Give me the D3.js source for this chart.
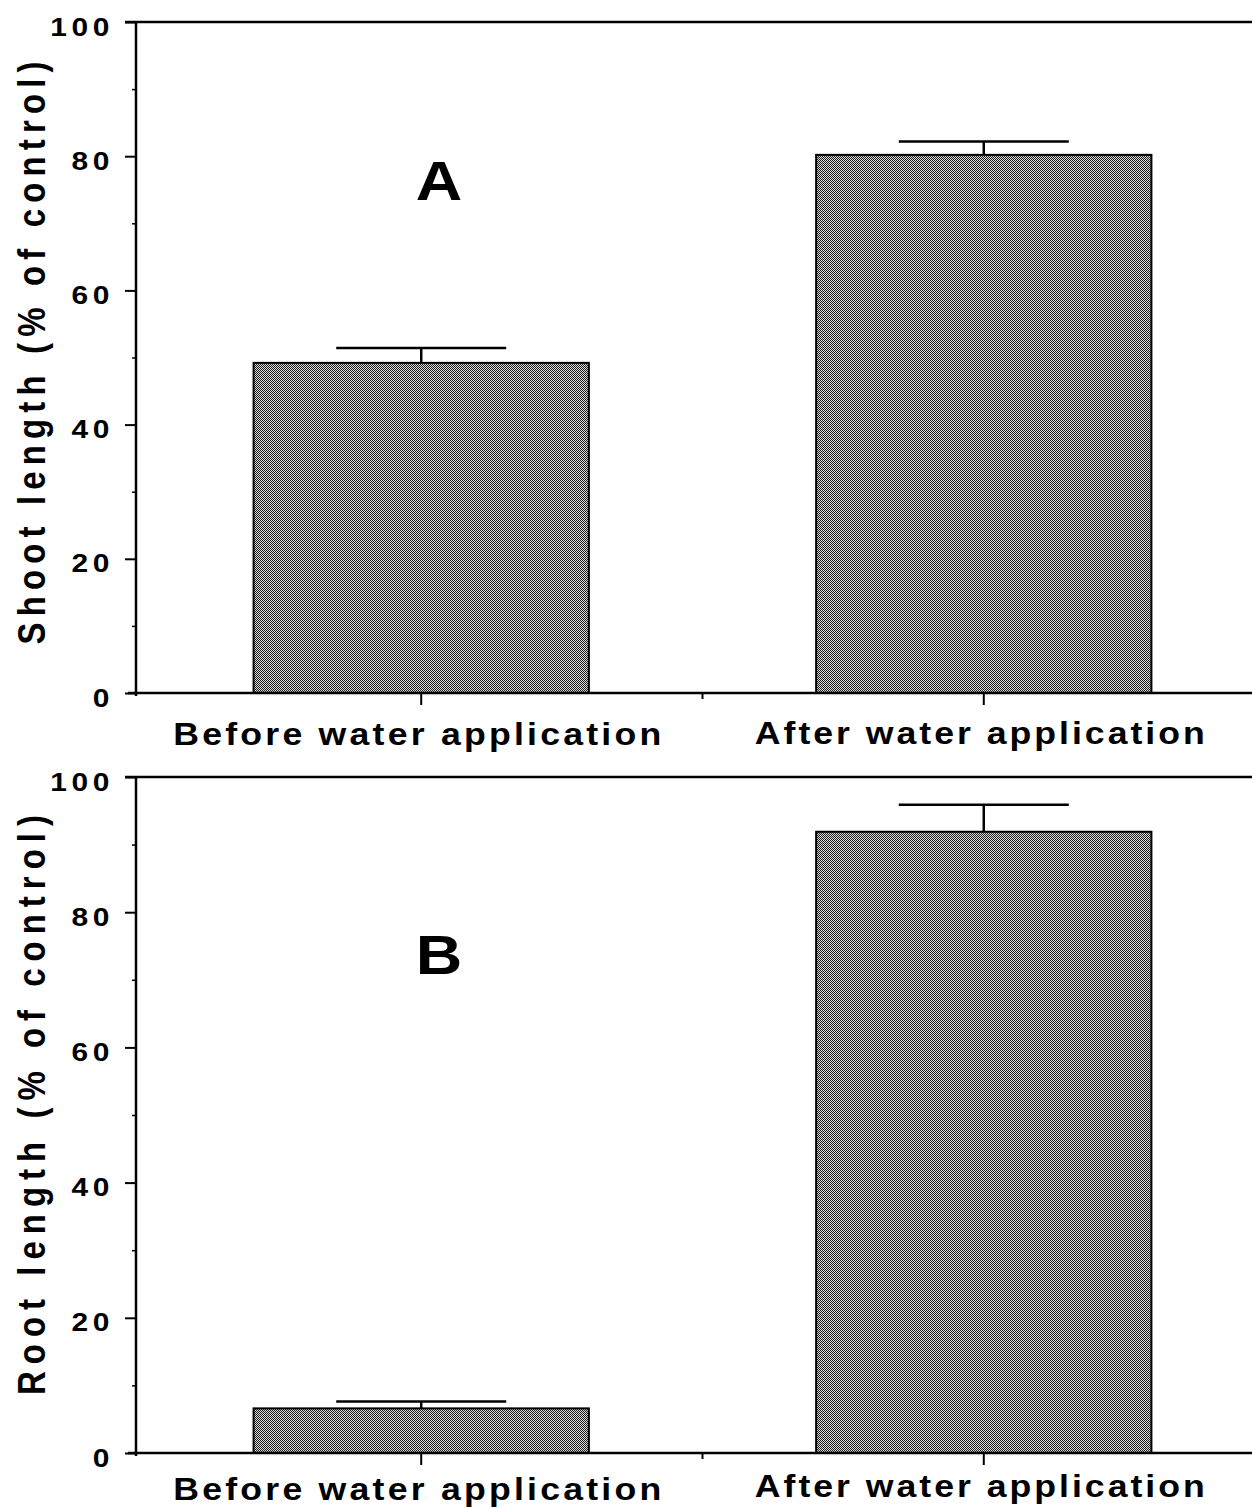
<!DOCTYPE html>
<html>
<head>
<meta charset="utf-8">
<script src="https://cdn.jsdelivr.net/npm/d3@7"></script>
<style>
  html, body { margin: 0; padding: 0; background: #fff; }
  svg { display: block; }
  text { font-family: "Liberation Sans", Arial, Helvetica, sans-serif; font-weight: bold; fill: #000; }
</style>
</head>
<body>
<svg id="chart" width="1252" height="1508"></svg>
<script>
// Growth after drought stress, expressed as percent of the well-watered control
const categories = ["Before water application", "After water application"];
const shootMean = [49.2, 80.2];
const shootErr  = [2.2, 2.0];
const rootMean  = [6.6, 91.9];
const rootErr   = [1.0, 4.0];
const yTicks    = [0, 20, 40, 60, 80, 100];
const yMinor    = [10, 30, 50, 70, 90];

const W = 1252, H = 1508;
const SX = 1.15;            // slightly widened lettering
const svg = d3.select("#chart");

// checker-dithered grey used for bar fills
const defs = svg.append("defs");
const pat = defs.append("pattern").attr("id", "dither")
  .attr("width", 2).attr("height", 2).attr("patternUnits", "userSpaceOnUse");
pat.append("rect").attr("width", 2).attr("height", 2).attr("fill", "#dcdcdc");
pat.append("rect").attr("x", 0).attr("y", 0).attr("width", 1).attr("height", 1).attr("fill", "#1c1c1c");
pat.append("rect").attr("x", 1).attr("y", 1).attr("width", 1).attr("height", 1).attr("fill", "#1c1c1c");

const x = d3.scaleBand().domain(categories)
  .range([136, 1269]).paddingInner(0.404).paddingOuter(0.209);

// widened text with a fixed overall length
function wideText(parent, tx, ty, str, size, length, anchor) {
  const g = parent.append("g").attr("transform", `translate(${tx},${ty}) scale(${SX},1)`);
  g.append("text").attr("text-anchor", anchor || "middle")
    .attr("font-size", size)
    .attr("textLength", length / SX).attr("lengthAdjust", "spacing")
    .text(str);
  return g;
}

const panels = [
  { top: 22,  bottom: 693,  means: shootMean, errs: shootErr, tag: "A", tagY: 200,
    title: "Shoot length (% of control)", titleY: 353, labelY: [745, 744] },
  { top: 777, bottom: 1453, means: rootMean,  errs: rootErr,  tag: "B", tagY: 974,
    title: "Root length (% of control)", titleY: 1105, labelY: [1500, 1497] }
];

panels.forEach(p => {
  const g = svg.append("g");
  const y = d3.scaleLinear().domain([0, 100]).range([p.bottom, p.top]);

  // bars
  g.selectAll("rect.bar").data(categories).join("rect")
    .attr("class", "bar")
    .attr("x", d => x(d))
    .attr("width", x.bandwidth())
    .attr("y", (d, i) => y(p.means[i]))
    .attr("height", (d, i) => y(0) - y(p.means[i]))
    .attr("fill", "url(#dither)")
    .attr("stroke", "#000").attr("stroke-width", 2);

  // error bars (upper only)
  const capHalf = 85;
  categories.forEach((c, i) => {
    const cx = x(c) + x.bandwidth() / 2;
    g.append("line")
      .attr("x1", cx).attr("x2", cx)
      .attr("y1", y(p.means[i])).attr("y2", y(p.means[i] + p.errs[i]))
      .attr("stroke", "#000").attr("stroke-width", 2.5);
    g.append("line")
      .attr("x1", cx - capHalf).attr("x2", cx + capHalf)
      .attr("y1", y(p.means[i] + p.errs[i])).attr("y2", y(p.means[i] + p.errs[i]))
      .attr("stroke", "#000").attr("stroke-width", 2.5);
  });

  // top frame line and x baseline
  g.append("line").attr("x1", 125).attr("x2", W).attr("y1", y(100)).attr("y2", y(100))
    .attr("stroke", "#000").attr("stroke-width", 2.5);
  g.append("line").attr("x1", 128).attr("x2", W).attr("y1", y(0)).attr("y2", y(0))
    .attr("stroke", "#000").attr("stroke-width", 2.5);

  // y axis: major ticks with labels
  const yAxis = g.append("g").attr("transform", "translate(136,0)")
    .call(d3.axisLeft(y).tickValues(yTicks).tickSize(11).tickPadding(14).tickFormat(d3.format("d")));
  yAxis.select(".domain").remove();
  yAxis.attr("font-size", null).attr("font-family", null);
  yAxis.selectAll(".tick line").attr("stroke", "#000").attr("stroke-width", 2);
  yAxis.selectAll(".tick text")
    .style("font-size", "26px")
    .attr("letter-spacing", 4).attr("dy", "0.5em")
    .attr("x", -22 / SX)
    .attr("transform", `scale(${SX},1)`);
  // minor ticks
  const yAxisMinor = g.append("g").attr("transform", "translate(136,0)")
    .call(d3.axisLeft(y).tickValues(yMinor).tickSize(4).tickFormat(""));
  yAxisMinor.select(".domain").remove();
  yAxisMinor.selectAll(".tick line").attr("stroke", "#000").attr("stroke-width", 1.5);
  // y axis line
  g.append("line").attr("x1", 136).attr("x2", 136).attr("y1", y(100)).attr("y2", y(0) + 3)
    .attr("stroke", "#000").attr("stroke-width", 2.5);

  // x axis ticks at the categories
  const xAxis = g.append("g").attr("transform", `translate(0,${y(0)})`)
    .call(d3.axisBottom(x).tickSize(12).tickFormat(""));
  xAxis.select(".domain").remove();
  xAxis.selectAll(".tick line").attr("stroke", "#000").attr("stroke-width", 2);
  // small divider tick between the two groups
  const midX = (x(categories[0]) + x.bandwidth() + x(categories[1])) / 2;
  g.append("line").attr("x1", midX).attr("x2", midX).attr("y1", y(0)).attr("y2", y(0) + 6)
    .attr("stroke", "#000").attr("stroke-width", 2);

  // category labels
  const labelLen = [488, 450];
  categories.forEach((c, i) => {
    wideText(g, x(c) + x.bandwidth() / 2 - 4, p.labelY[i], c, 31, labelLen[i], "middle");
  });

  // y title, rotated and widened across the letter height
  g.append("g").attr("transform", `translate(45,${p.titleY}) rotate(-90) scale(1,${SX})`)
    .append("text").attr("text-anchor", "middle").attr("font-size", 33)
    .attr("textLength", p.tag === "A" ? 583 : 580).attr("lengthAdjust", "spacing")
    .text(p.title);

  // panel tag
  g.append("g").attr("transform", `translate(439,${p.tagY}) scale(${SX},1)`)
    .append("text").attr("text-anchor", "middle").attr("font-size", 56)
    .text(p.tag);
});
</script>
</body>
</html>
